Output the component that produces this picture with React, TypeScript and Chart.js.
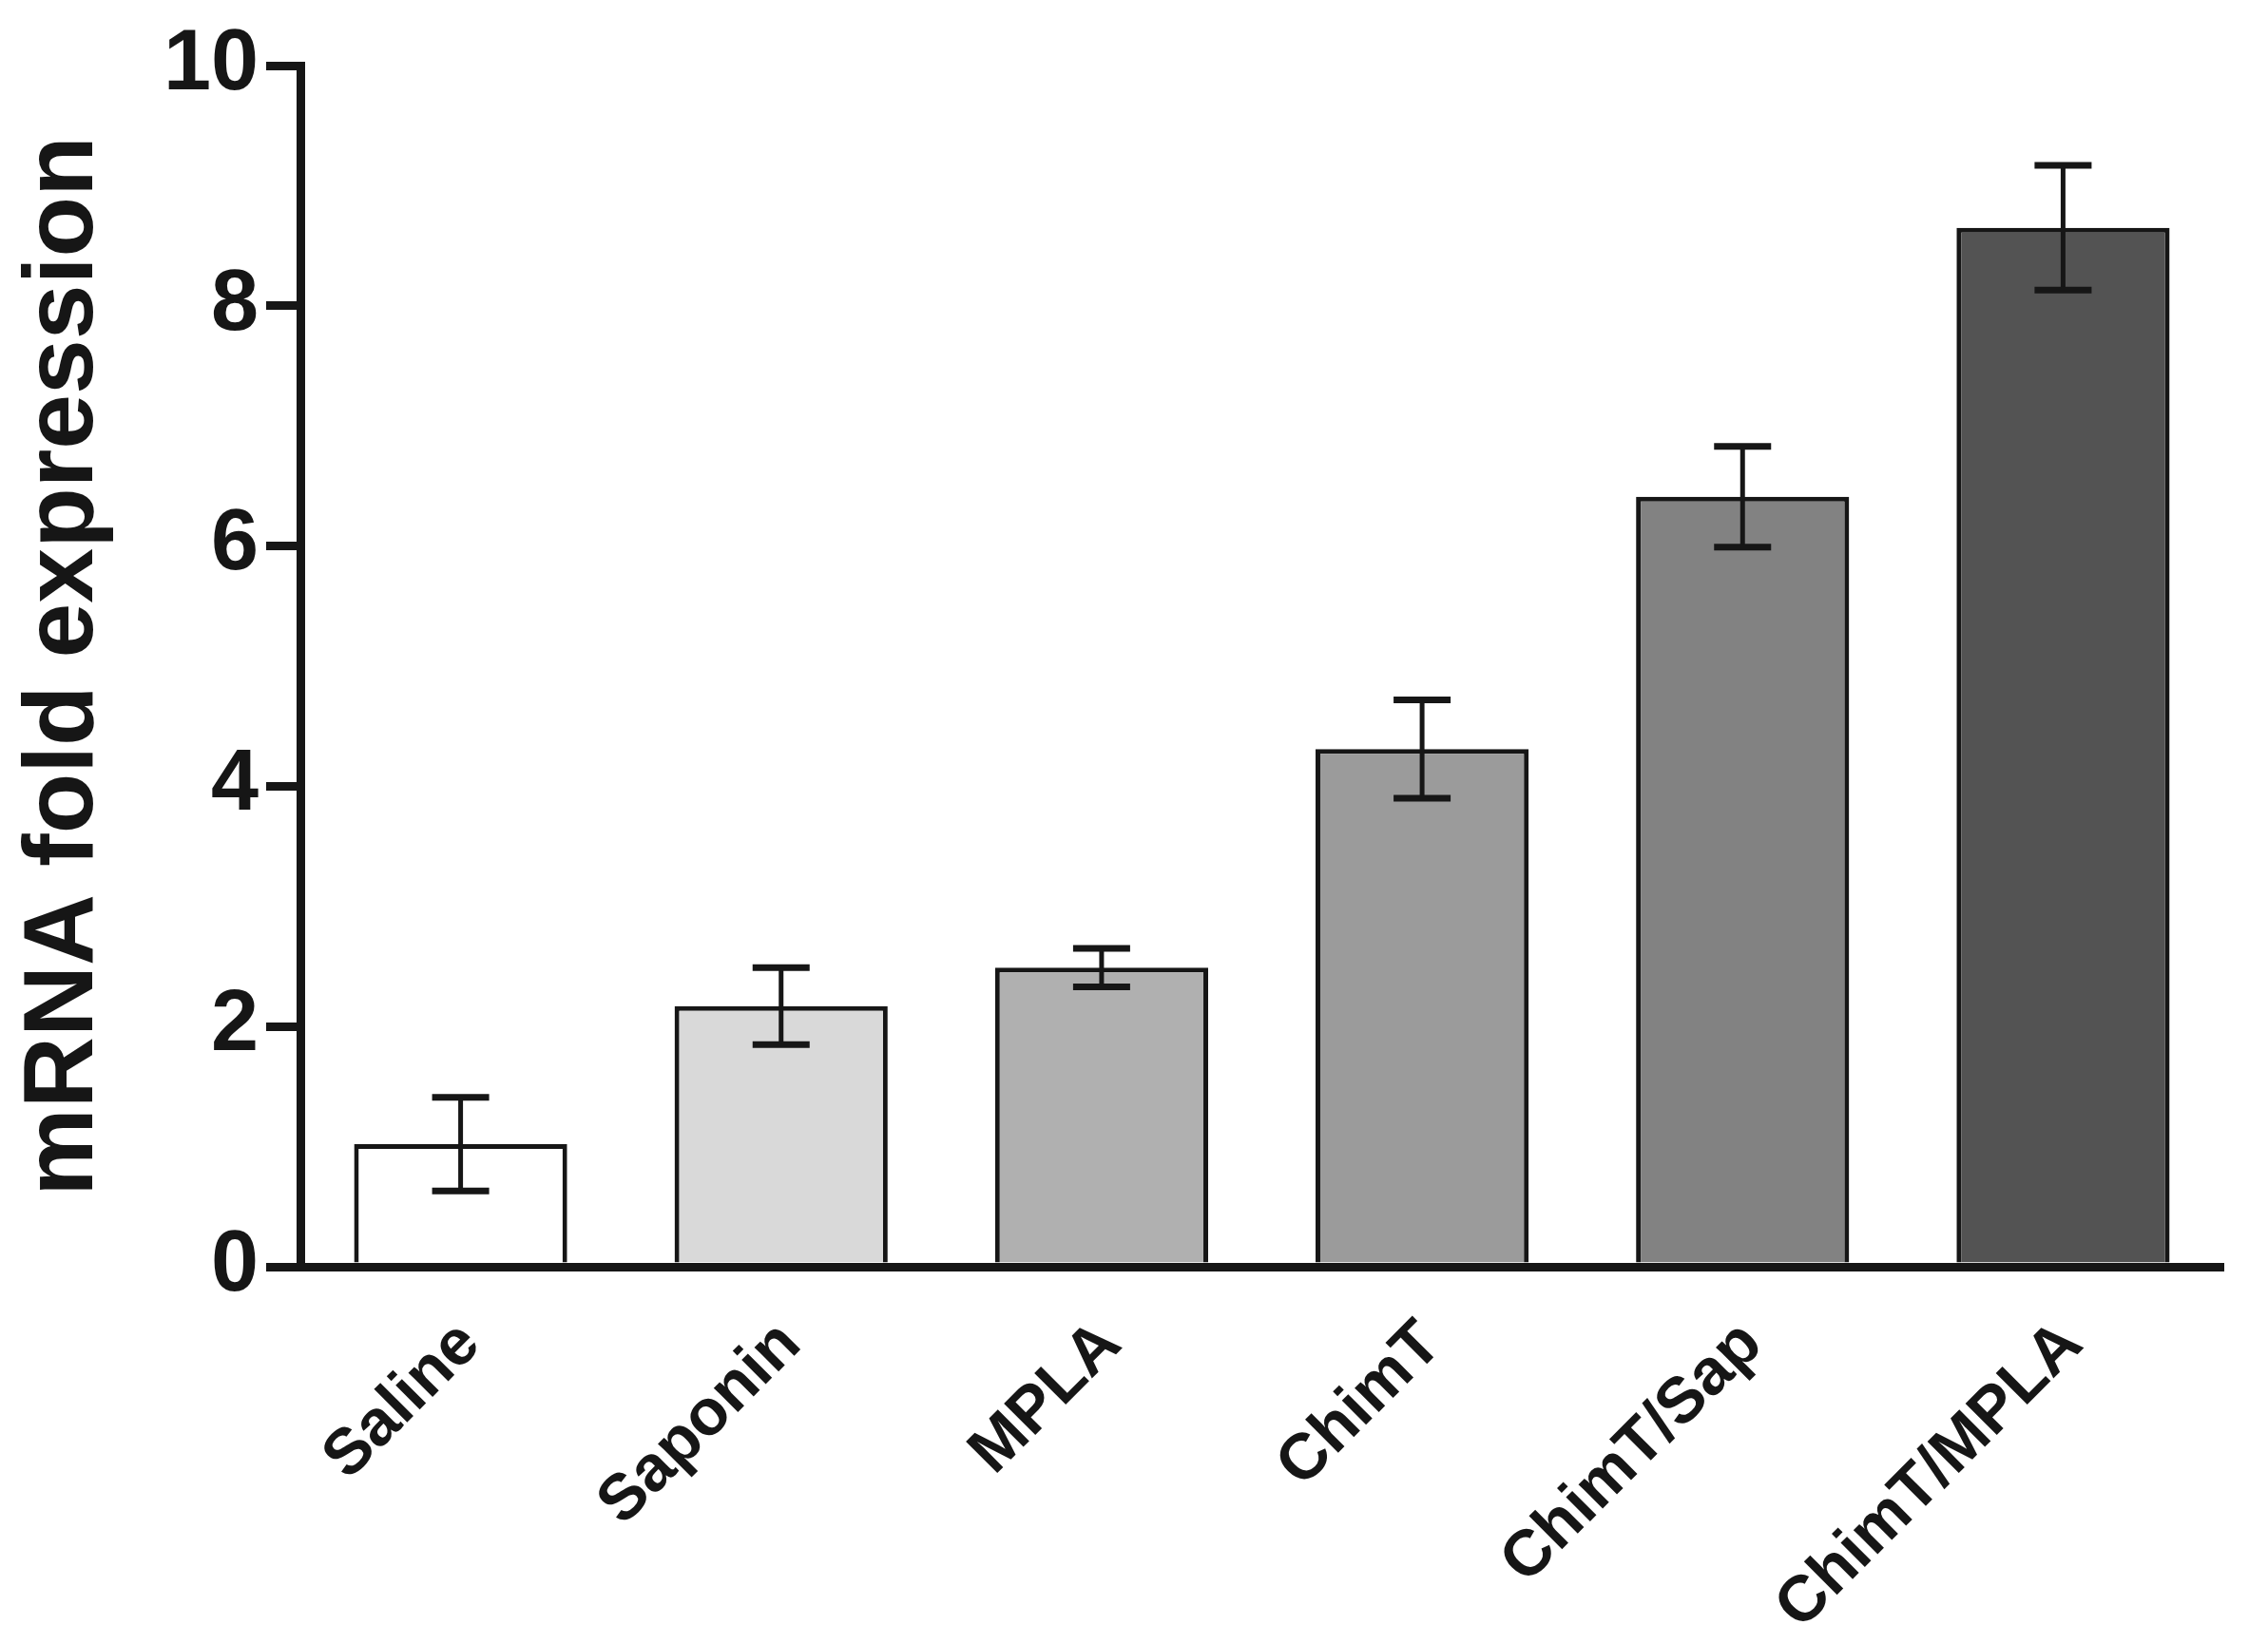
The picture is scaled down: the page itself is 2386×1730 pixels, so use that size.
import React, { useEffect, useRef } from 'react';
import { Chart, registerables } from 'chart.js';

Chart.register(...registerables);

const categories = ['Saline', 'Saponin', 'MPLA', 'ChimT', 'ChimT/Sap', 'ChimT/MPLA'];
const meanValues = [1.02, 2.17, 2.49, 4.31, 6.41, 8.65];
const errorValues = [0.39, 0.32, 0.16, 0.41, 0.42, 0.52];
const barColors = ['#ffffff', '#d9d9d9', '#b0b0b0', '#9b9b9b', '#828282', '#535353'];
const yTickValues = [0, 2, 4, 6, 8, 10];
const yTitle = 'mRNA fold expression';

const INK = '#161616';
const FONT = '"Liberation Sans", Arial, Helvetica, sans-serif';

const errorBarPlugin = {
  id: 'errorBars',
  afterDatasetsDraw(chart: any) {
    const { ctx } = chart;
    const meta = chart.getDatasetMeta(0);
    const yScale = chart.scales.y;
    ctx.save();
    ctx.strokeStyle = INK;
    meta.data.forEach((bar: any, i: number) => {
      const x = bar.x;
      const top = yScale.getPixelForValue(meanValues[i] + errorValues[i]);
      const bot = yScale.getPixelForValue(meanValues[i] - errorValues[i]);
      ctx.lineWidth = 5;
      ctx.beginPath();
      ctx.moveTo(x, top);
      ctx.lineTo(x, bot);
      ctx.stroke();
      ctx.lineWidth = 7;
      ctx.beginPath();
      ctx.moveTo(x - 30, top);
      ctx.lineTo(x + 30, top);
      ctx.moveTo(x - 30, bot);
      ctx.lineTo(x + 30, bot);
      ctx.stroke();
    });
    ctx.restore();
  },
};

export default function App() {
  const canvasRef = useRef<HTMLCanvasElement | null>(null);

  useEffect(() => {
    if (!canvasRef.current) return;
    const chart = new Chart(canvasRef.current, {
      type: 'bar',
      data: {
        labels: categories,
        datasets: [
          {
            data: meanValues,
            backgroundColor: barColors,
            borderColor: INK,
            borderWidth: 5,
            borderSkipped: 'start',
            categoryPercentage: 1,
            barPercentage: 0.665,
          },
        ],
      },
      options: {
        animation: false,
        responsive: false,
        devicePixelRatio: 1,
        layout: { padding: { left: 0, top: 69, right: 47, bottom: 0 } },
        plugins: {
          legend: { display: false },
          tooltip: { enabled: false },
        },
        scales: {
          x: {
            z: 1,
            offset: true,
            grid: { display: false },
            border: { display: true, color: INK, width: 9 },
            ticks: {
              color: INK,
              font: { family: FONT, size: 68, weight: 'bold' },
              minRotation: 45,
              maxRotation: 45,
              padding: 34,
              labelOffset: 10,
            },
            afterFit(scale: any) {
              scale.height = 1730 - 1333;
            },
          },
          y: {
            z: 1,
            min: 0,
            max: 10,
            afterBuildTicks(scale: any) {
              scale.ticks = yTickValues.map((v) => ({ value: v }));
            },
            grid: {
              display: true,
              drawOnChartArea: false,
              drawTicks: true,
              tickLength: 36,
              lineWidth: 9,
              color: INK,
            },
            border: { display: true, color: INK, width: 9 },
            ticks: {
              color: INK,
              font: { family: FONT, size: 90, weight: 'bold' },
              padding: 8,
            },
            title: {
              display: true,
              text: yTitle,
              color: INK,
              font: { family: FONT, size: 104, weight: 'bold' },
              padding: { top: 6, bottom: 0 },
            },
            afterFit(scale: any) {
              scale.width = 316;
            },
          },
        },
      },
      plugins: [errorBarPlugin],
    });
    return () => chart.destroy();
  }, []);

  return (
    <div
      style={{
        position: 'fixed',
        left: 0,
        top: 0,
        width: 2386,
        height: 1730,
        background: '#ffffff',
      }}
    >
      <canvas ref={canvasRef} width={2386} height={1730} />
    </div>
  );
}
